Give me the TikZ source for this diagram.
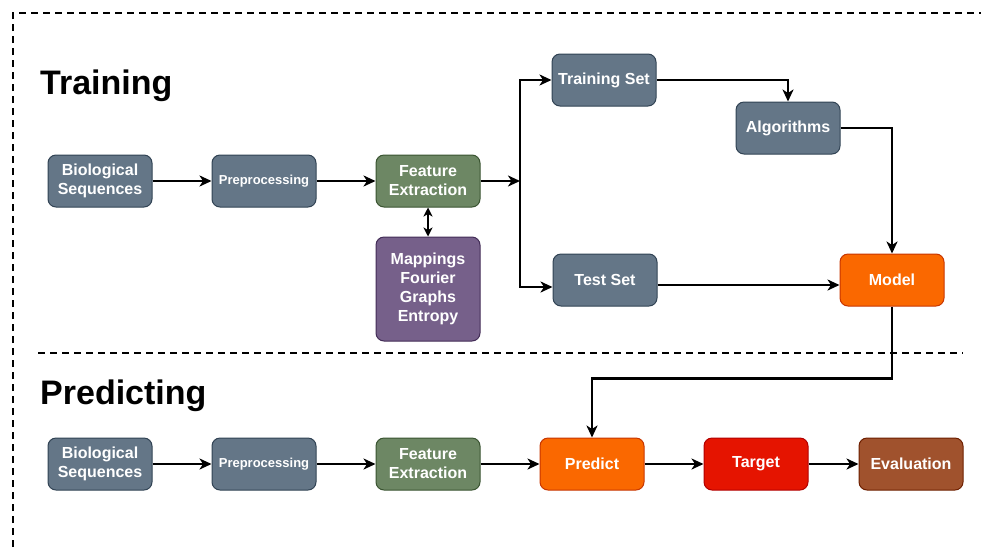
\documentclass[tikz,border=0pt]{standalone}
\usepackage{fontspec}
\setmainfont{Liberation Sans}
\usepackage{tikz}
\usetikzlibrary{arrows.meta,positioning,calc}

\definecolor{slatefill}{HTML}{647687}
\definecolor{slateline}{HTML}{314354}
\definecolor{greenfill}{HTML}{6D8764}
\definecolor{greenline}{HTML}{3A5431}
\definecolor{purplefill}{HTML}{76608A}
\definecolor{purpleline}{HTML}{432D57}
\definecolor{orangefill}{HTML}{FA6800}
\definecolor{orangeline}{HTML}{C73500}
\definecolor{redfill}{HTML}{E51400}
\definecolor{redline}{HTML}{B20000}
\definecolor{brownfill}{HTML}{A0522D}
\definecolor{brownline}{HTML}{6D1F00}

\begin{document}
\begin{tikzpicture}[x=1pt,y=-1pt,node distance=59pt,
    box/.style={rectangle, rounded corners=8pt, minimum width=104pt, minimum height=52pt,
      inner sep=2pt, align=center, text=white, line width=1pt,
      font=\fontsize{16}{19}\selectfont\bfseries},
    slatebox/.style={box, fill=slatefill, draw=slateline},
    greenbox/.style={box, fill=greenfill, draw=greenline},
    purplebox/.style={box, fill=purplefill, draw=purpleline},
    orangebox/.style={box, fill=orangefill, draw=orangeline},
    redbox/.style={box, fill=redfill, draw=redline},
    brownbox/.style={box, fill=brownfill, draw=brownline},
    small/.style={font=\fontsize{13}{16}\selectfont\bfseries},
    heading/.style={anchor=base west, inner sep=0pt, font=\fontsize{34}{40}\selectfont\bfseries},
    divider/.style={line width=2pt, dash pattern=on 7pt off 5pt},
    flow/.style={line width=2.4pt, -{Stealth[length=12pt,width=11pt,inset=3.5pt]}},
    both/.style={line width=2.4pt, {Stealth[length=9pt,width=9pt,inset=2.5pt]}-{Stealth[length=9pt,width=9pt,inset=2.5pt]}}]
  \useasboundingbox (0,0) rectangle (981,547);
  % dashed frame and split line
  \draw[divider] (13,547) -- (13,13) -- (981,13);
  \draw[divider] (38,353) -- (963,353);
  % titles
  \node[heading] (ttrain) at (40,94) {Training};
  \node[heading] (tpred) at (40,404) {Predicting};
  % training nodes
  \node[slatebox] (seq1) at (100,181) {Biological\\Sequences};
  \node[slatebox, small] (pre1) [right =of seq1] {Preprocessing};
  \node[greenbox] (feat1) [right =of pre1] {Feature\\Extraction};
  \node[purplebox, minimum height=104pt] (maps) [below =29pt of feat1] {Mappings\\Fourier\\Graphs\\Entropy};
  \coordinate (split) at (520,181);
  \node[slatebox] (trset) at (604,80) {Training Set};
  \node[slatebox] (algo) at (788,128) {Algorithms};
  \node[slatebox] (teset) at (605,280) {Test Set};
  \node[orangebox] (model) at (892,280) {Model};
  % predicting nodes
  \node[slatebox] (seq2) at (100,464) {Biological\\Sequences};
  \node[slatebox, small] (pre2) [right =of seq2] {Preprocessing};
  \node[greenbox] (feat2) [right =of pre2] {Feature\\Extraction};
  \node[orangebox] (pred) [right =of feat2] {Predict};
  \node[redbox] (targ) [right =of pred] {Target};
  \node[brownbox] (eval) [right =50pt of targ] {Evaluation};
  % Directed edges
  \draw[flow] (seq1) -- (pre1);
  \draw[flow] (pre1) -- (feat1);
  \draw[both] (feat1) -- (maps);
  \draw[flow] (feat1) -- (split);
  \draw[flow] (split) |- (trset);
  \draw[flow] (split) |- ([yshift=-7pt]teset.west);
  \draw[flow] (trset) -| (algo);
  \draw[flow] (algo) -| (model);
  \draw[flow] ([yshift=-5pt]teset.east) -- ([yshift=-5pt]model.west);
  \draw[flow] (model.south) -- ++(0,72) -| (pred);
  \draw[flow] (seq2) -- (pre2);
  \draw[flow] (pre2) -- (feat2);
  \draw[flow] (feat2) -- (pred);
  \draw[flow] (pred) -- (targ);
  \draw[flow] (targ) -- (eval);
\end{tikzpicture}
\end{document}
